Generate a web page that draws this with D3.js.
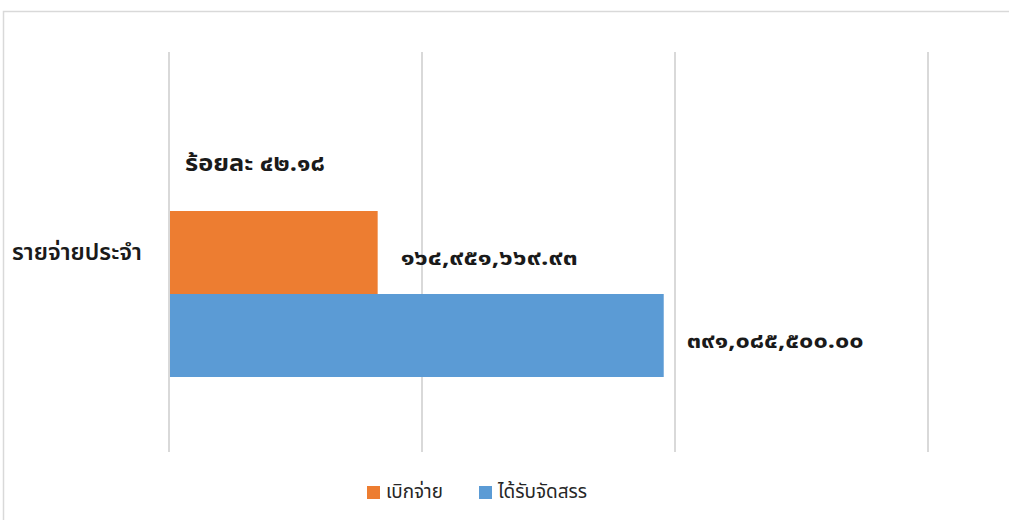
<!DOCTYPE html>
<html>
<head>
<meta charset="utf-8">
<script src="https://cdnjs.cloudflare.com/ajax/libs/d3/7.8.5/d3.min.js"></script>
<style>
body { margin: 0; background: #fff; }
text { font-family: "Noto Sans Thai", "Noto Sans", "Tahoma", sans-serif; }
</style>
</head>
<body>
<div id="chart"></div>
<script>
var categories = ["รายจ่ายประจำ"];
var seriesNames = ["เบิกจ่าย", "ได้รับจัดสรร"];
var seriesValues = [164951669.93, 391085500.00];
var valueLabels = ["๑๖๔,๙๕๑,๖๖๙.๙๓", "๓๙๑,๐๘๕,๕๐๐.๐๐"];
var percentLabel = "ร้อยละ ๔๒.๑๘";
var gridTicks = [0, 200000000, 400000000, 600000000];
var colors = ["#ed7d31", "#5b9bd5"];

var svg = d3.select("#chart").append("svg")
	.attr("width", 1009)
	.attr("height", 520);

// chart frame
svg.append("path")
	.attr("d", "M3.5,520 L3.5,11.5 L1009,11.5")
	.attr("fill", "none")
	.attr("stroke", "#d9d9d9")
	.attr("stroke-width", 1.5);

var x = d3.scaleLinear().domain([0, 600000000]).range([169, 928]);
var yCat = d3.scaleBand().domain(categories).range([52, 452]);
var ySer = d3.scaleBand().domain(seriesNames).range([211, 377]);

svg.selectAll("line.grid")
	.data(gridTicks)
	.enter().append("line")
	.attr("class", "grid")
	.attr("x1", function(d){ return x(d); })
	.attr("x2", function(d){ return x(d); })
	.attr("y1", 52)
	.attr("y2", 452)
	.attr("stroke", "#d9d9d9")
	.attr("stroke-width", 2);

svg.selectAll("rect.bar")
	.data(seriesValues)
	.enter().append("rect")
	.attr("class", "bar")
	.attr("x", x(0) + 1)
	.attr("y", function(d, i){ return ySer(seriesNames[i]); })
	.attr("width", function(d){ return x(d) - x(0) - 1; })
	.attr("height", ySer.bandwidth())
	.attr("fill", function(d, i){ return colors[i]; });

svg.selectAll("text.val")
	.data(seriesValues)
	.enter().append("text")
	.attr("class", "val")
	.attr("x", function(d){ return x(d) + 23; })
	.attr("y", function(d, i){ return ySer(seriesNames[i]) + ySer.bandwidth() / 2 + 6; })
	.attr("dominant-baseline", "middle")
	.attr("font-size", 22)
	.attr("font-weight", "bold")
	.attr("fill", "#1a1a1a")
	.attr("textLength", 177)
	.attr("lengthAdjust", "spacingAndGlyphs")
	.text(function(d, i){ return valueLabels[i]; });

svg.append("text")
	.attr("x", x(0) + 16)
	.attr("y", 165)
	.attr("dominant-baseline", "middle")
	.attr("font-size", 23)
	.attr("font-weight", "bold")
	.attr("fill", "#1a1a1a")
	.attr("textLength", 140)
	.attr("lengthAdjust", "spacingAndGlyphs")
	.text(percentLabel);

svg.selectAll("text.cat")
	.data(categories)
	.enter().append("text")
	.attr("class", "cat")
	.attr("x", 12)
	.attr("y", 254)
	.attr("dominant-baseline", "middle")
	.attr("font-size", 23)
	.attr("font-weight", 600)
	.attr("fill", "#1a1a1a")
	.attr("textLength", 130)
	.attr("lengthAdjust", "spacingAndGlyphs")
	.text(function(d){ return d; });

// legend
var legX = [367, 479];
var legW = [57, 89];
var leg = svg.selectAll("g.leg")
	.data(seriesNames)
	.enter().append("g")
	.attr("class", "leg")
	.attr("transform", function(d, i){ return "translate(" + legX[i] + ",486)"; });
leg.append("rect")
	.attr("width", 13)
	.attr("height", 13)
	.attr("fill", function(d, i){ return colors[i]; });
leg.append("text")
	.attr("x", 19)
	.attr("y", 7)
	.attr("dominant-baseline", "middle")
	.attr("font-size", 19)
	.attr("fill", "#262626")
	.attr("textLength", function(d, i){ return legW[i]; })
	.attr("lengthAdjust", "spacingAndGlyphs")
	.text(function(d){ return d; });
</script>
</body>
</html>
